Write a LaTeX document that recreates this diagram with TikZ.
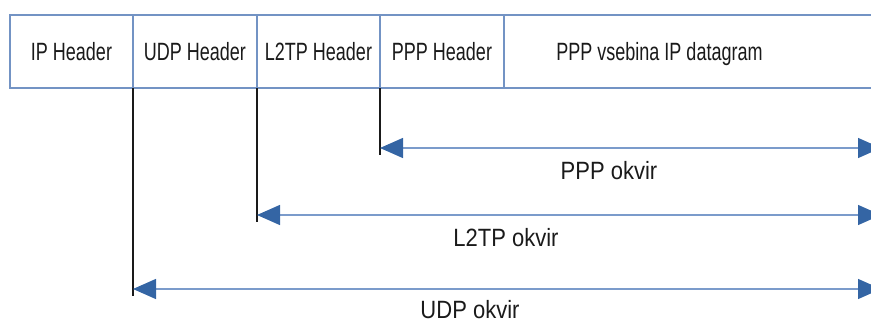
\documentclass[tikz,border=0pt]{standalone}
\usepackage{fontspec}
\setmainfont{Liberation Sans}
\newfontfamily\headfont[FakeStretch=0.72]{Liberation Sans}
\newfontfamily\spanfont[FakeStretch=0.88]{Liberation Sans}
\usetikzlibrary{arrows.meta, positioning, calc}
\definecolor{cellline}{HTML}{7393C4}
\definecolor{spanline}{HTML}{7B9BCB}
\definecolor{spanhead}{HTML}{3465A4}
\definecolor{tickline}{HTML}{1A1A1A}
\definecolor{textcol}{HTML}{1A1A1A}
\tikzset{
  cell/.style={
    draw=cellline,
    line width=1.3pt,
    minimum height=73pt,
    inner sep=0pt,
    outer sep=0pt,
    text height=18pt,
    text depth=0pt,
    text=textcol,
    font=\headfont\fontsize{25}{30}\selectfont
  },
  span/.style={
    {Triangle[length=23pt, width=20pt, color=spanhead]}-{Triangle[length=23pt, width=20pt, color=spanhead]},
    line width=1.3pt,
    draw=spanline
  },
  tick/.style={
    line width=1.3pt,
    draw=tickline
  },
  spanlabel/.style={
    anchor=base,
    inner sep=0pt,
    text=textcol,
    font=\spanfont\fontsize{25}{30}\selectfont
  }
}

\begin{document}
\begin{tikzpicture}[x=1pt, y=1pt]

\clip (0,0) rectangle (871,-323);

\node[cell, minimum width=123pt, anchor=north west] (ip) at (10,-15) {IP Header};
\node[cell, minimum width=124pt, right=0pt of ip] (udp) {UDP Header};
\node[cell, minimum width=123pt, right=0pt of udp] (l2tp) {L2TP Header};
\node[cell, minimum width=124pt, right=0pt of l2tp] (ppp) {PPP Header};
\node[cell, minimum width=400pt, right=0pt of ppp] (payload) {\hspace*{-89pt}PPP vsebina IP datagram};

% where the spans start and end
\coordinate (pppfrom) at ($(ppp.south west)+(0,-60)$);
\coordinate (pppfoot) at ($(ppp.south west)+(0,-67)$);
\coordinate (pppto) at (881,-148);
\coordinate (l2tpfrom) at ($(l2tp.south west)+(0,-127)$);
\coordinate (l2tpfoot) at ($(l2tp.south west)+(0,-134)$);
\coordinate (l2tpto) at (881,-215);
\coordinate (udpfrom) at ($(udp.south west)+(0,-201)$);
\coordinate (udpfoot) at ($(udp.south west)+(0,-208)$);
\coordinate (udpto) at (881,-289);

\draw[tick] (ppp.south west) -- (pppfoot);
\draw[tick] (l2tp.south west) -- (l2tpfoot);
\draw[tick] (udp.south west) -- (udpfoot);

\draw[span] (pppfrom) -- (pppto);
\draw[span] (l2tpfrom) -- (l2tpto);
\draw[span] (udpfrom) -- (udpto);

\node[spanlabel] (ppplabel) at (609,-180) {PPP okvir};
\node[spanlabel] (l2tplabel) at (506,-247) {L2TP okvir};
\node[spanlabel] (udplabel) at (470,-319) {UDP okvir};

\end{tikzpicture}
\end{document}
